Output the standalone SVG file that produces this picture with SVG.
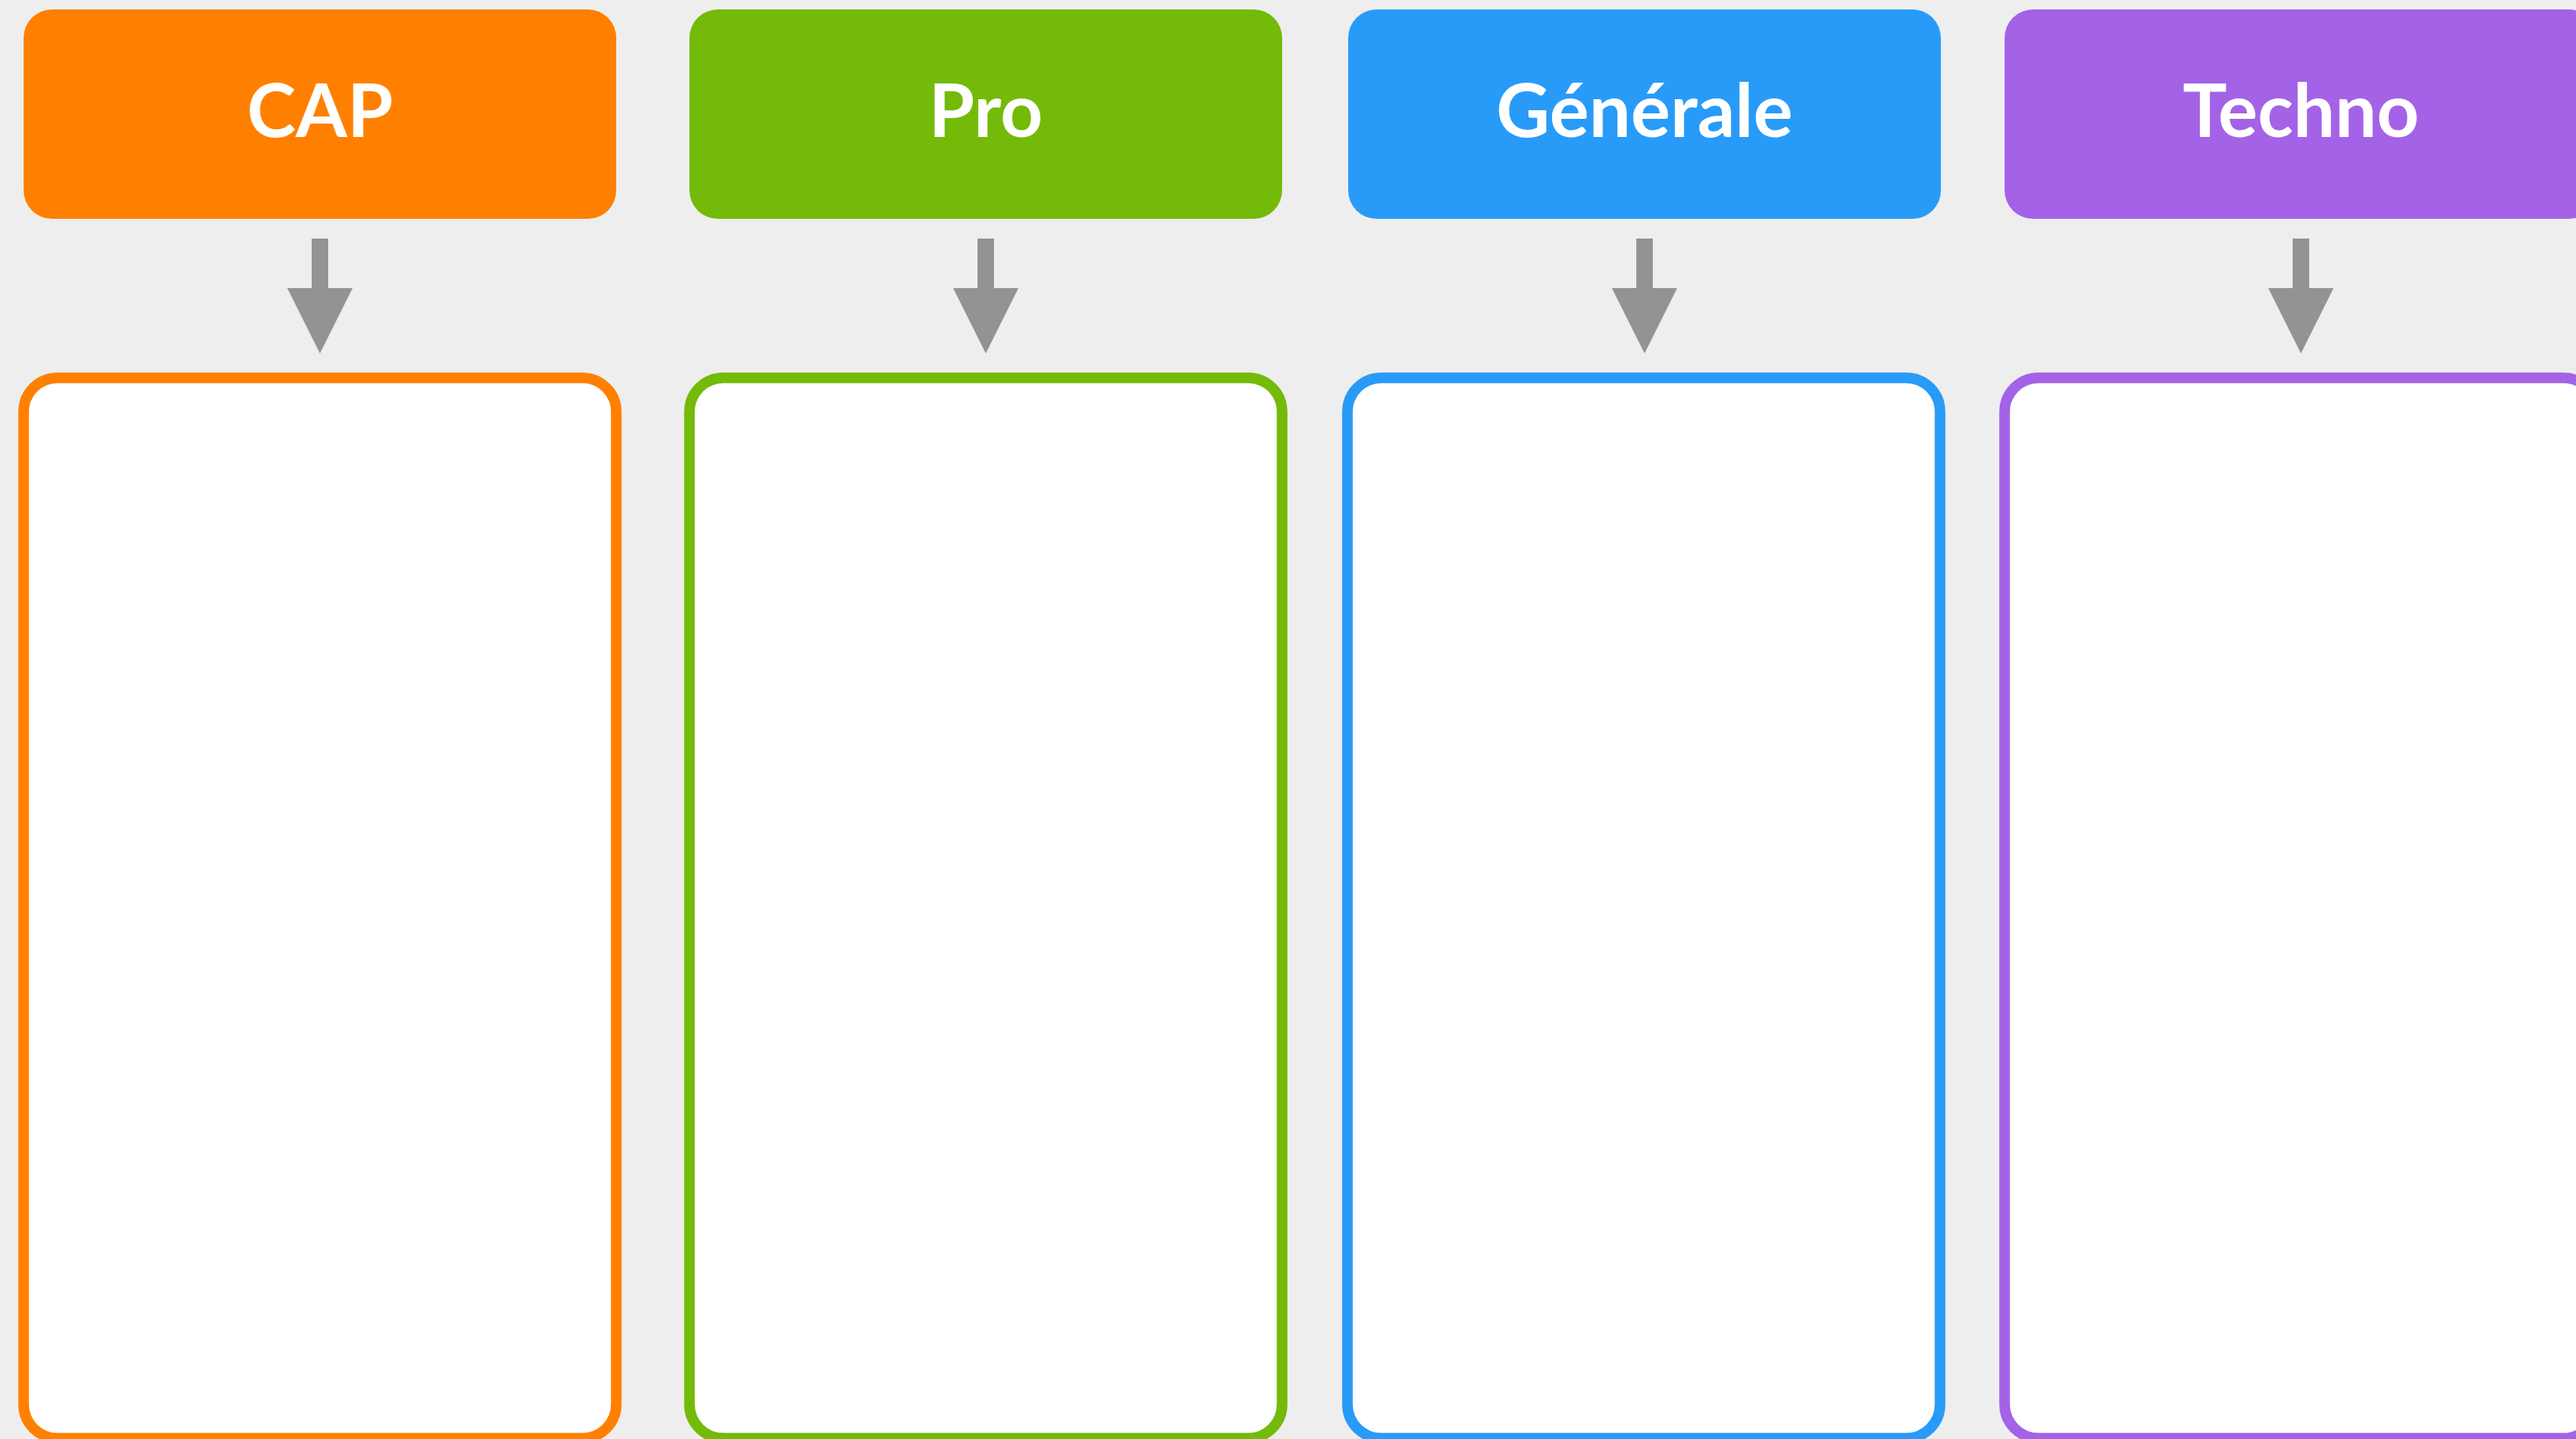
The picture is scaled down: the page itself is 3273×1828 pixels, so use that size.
<svg xmlns="http://www.w3.org/2000/svg" width="3273" height="1828" viewBox="0 0 3273 1828">
  <style>
    .hdr-text { font-family: "Lato", "Open Sans", "DejaVu Sans", sans-serif; font-weight: 700; font-size: 94px; fill: #ffffff; text-anchor: middle; }
    .panel { fill: #ffffff; stroke-width: 13.5; }
    .conn { stroke: #939393; stroke-width: 21; fill: none; marker-end: url(#arrowhead); }
  </style>
  <defs>
    <marker id="arrowhead" markerUnits="userSpaceOnUse" markerWidth="83" markerHeight="83" refX="0" refY="41.5" orient="auto" viewBox="0 0 83 83">
      <path d="M0,0 L83,41.5 L0,83 Z" fill="#939393"/>
    </marker>
  </defs>
  <rect x="0" y="0" width="3273" height="1828" fill="#eeeeee"/>

  <g id="cap">
    <rect x="30" y="12" width="753" height="266" rx="36" ry="36" fill="#ff8000"/>
    <text class="hdr-text" x="406.5" y="174">CAP</text>
  </g>
  <g id="pro">
    <rect x="876" y="12" width="753" height="266" rx="36" ry="36" fill="#73ba09"/>
    <text class="hdr-text" x="1252.5" y="174">Pro</text>
  </g>
  <g id="generale">
    <rect x="1713" y="12" width="753" height="266" rx="36" ry="36" fill="#289bf8"/>
    <text class="hdr-text" x="2089.5" y="174">Générale</text>
  </g>
  <g id="techno">
    <rect x="2547" y="12" width="753" height="266" rx="36" ry="36" fill="#a462e7"/>
    <text class="hdr-text" x="2923.5" y="174">Techno</text>
  </g>

  <g id="cap-panel">
    <rect class="panel" x="30" y="480" width="753" height="1347" rx="43" ry="43" stroke="#ff8000"/>
  </g>
  <g id="pro-panel">
    <rect class="panel" x="876" y="480" width="753" height="1347" rx="43" ry="43" stroke="#73ba09"/>
  </g>
  <g id="generale-panel">
    <rect class="panel" x="1712" y="480" width="753" height="1347" rx="43" ry="43" stroke="#289bf8"/>
  </g>
  <g id="techno-panel">
    <rect class="panel" x="2547" y="480" width="753" height="1347" rx="43" ry="43" stroke="#a462e7"/>
  </g>

  <g id="connectors">
    <line class="conn" x1="406.5" y1="303" x2="406.5" y2="366"/>
    <line class="conn" x1="1252.5" y1="303" x2="1252.5" y2="366"/>
    <line class="conn" x1="2089.5" y1="303" x2="2089.5" y2="366"/>
    <line class="conn" x1="2923.5" y1="303" x2="2923.5" y2="366"/>
  </g>
</svg>
